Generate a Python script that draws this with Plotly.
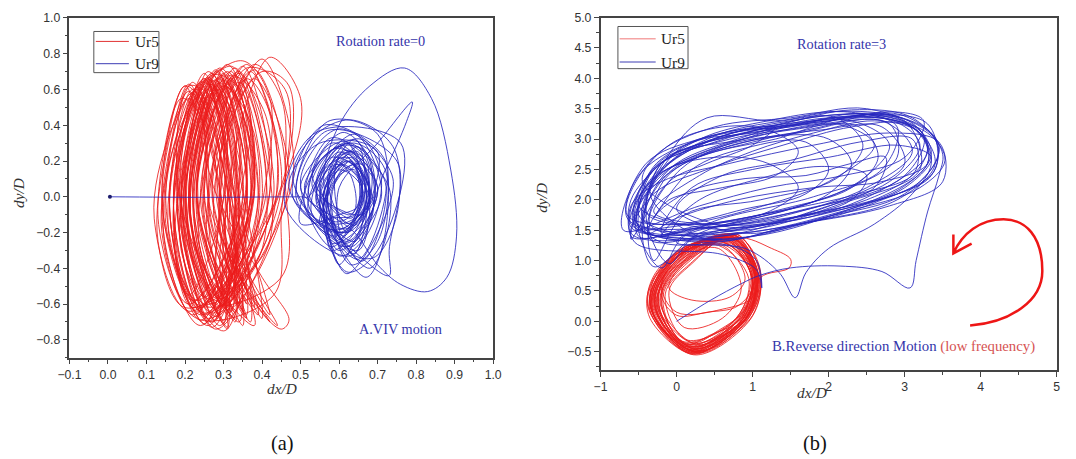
import plotly.graph_objects as go

W, H = 1076, 459

# ---------------- (a) rotation rate = 0 : trajectory points (dx/D, dy/D) ----------------
ur5_a = [
    (0.26, -0.62), (0.19, -0.02), (0.27, 0.63), (0.34, 0.02),
    (0.29, -0.66), (0.21, 0.03), (0.30, 0.68), (0.37, -0.04),
    (0.23, -0.58), (0.16, -0.08), (0.22, 0.60), (0.31, 0.06),
    (0.33, -0.70), (0.23, -0.02), (0.33, 0.72), (0.41, 0.01),
    (0.27, -0.55), (0.20, 0.05), (0.26, 0.66), (0.33, 0.00),
    (0.25, -0.71), (0.17, -0.12), (0.24, 0.57), (0.32, 0.08),
    (0.36, -0.66), (0.25, 0.00), (0.36, 0.74), (0.45, 0.05),
    (0.30, -0.60), (0.22, 0.02), (0.29, 0.64), (0.36, -0.02),
    (0.22, -0.66), (0.14, -0.10), (0.21, 0.55), (0.29, 0.04),
    (0.31, -0.73), (0.21, -0.04), (0.31, 0.70), (0.39, -0.01),
    (0.28, -0.63), (0.20, 0.00), (0.28, 0.62), (0.35, 0.03),
    (0.40, -0.68), (0.28, 0.05), (0.40, 0.77), (0.48, 0.10),
    (0.26, -0.68), (0.18, -0.04), (0.25, 0.65), (0.33, -0.03),
    (0.32, -0.58), (0.23, 0.04), (0.32, 0.66), (0.38, 0.02),
    (0.24, -0.62), (0.17, -0.06), (0.23, 0.61), (0.31, 0.05),
    (0.35, -0.72), (0.24, 0.00), (0.34, 0.69), (0.43, 0.00),
    (0.29, -0.57), (0.21, 0.02), (0.29, 0.71), (0.36, 0.04),
    (0.21, -0.60), (0.13, -0.12), (0.20, 0.62), (0.28, 0.02),
    (0.40, -0.45), (0.47, -0.69), (0.45, -0.74), (0.36, -0.52), (0.31, -0.05), (0.42, 0.78), (0.50, 0.55), (0.46, 0.10),
    (0.27, -0.65), (0.19, 0.01), (0.26, 0.67), (0.34, -0.01),
    (0.30, -0.69), (0.22, -0.03), (0.31, 0.63), (0.38, 0.03),
    (0.25, -0.56), (0.18, 0.04), (0.25, 0.69), (0.32, 0.00),
    (0.38, -0.62), (0.27, 0.02), (0.38, 0.71), (0.46, 0.06),
    (0.28, -0.74), (0.19, -0.06), (0.27, 0.58), (0.35, 0.02),
    (0.23, -0.64), (0.15, -0.02), (0.22, 0.64), (0.30, 0.04),
    (0.33, -0.65), (0.23, 0.03), (0.33, 0.68), (0.40, -0.02),
    (0.29, -0.61), (0.21, -0.01), (0.28, 0.70), (0.36, 0.05),
    (0.26, -0.70), (0.18, -0.08), (0.26, 0.60), (0.33, 0.01),
    (0.42, -0.66), (0.29, 0.00), (0.38, 0.66), (0.47, 0.08),
    (0.31, -0.63), (0.22, 0.01), (0.30, 0.66), (0.37, 0.00),
    (0.24, -0.69), (0.16, -0.04), (0.24, 0.63), (0.31, 0.03),
    (0.34, -0.60), (0.25, 0.04), (0.35, 0.73), (0.42, 0.02),
    (0.28, -0.67), (0.20, -0.02), (0.28, 0.65), (0.35, -0.02),
    (0.22, -0.58), (0.14, 0.00), (0.21, 0.59), (0.29, 0.06),
    (0.30, -0.71), (0.21, -0.05), (0.30, 0.69), (0.38, 0.02),
    (0.27, -0.60), (0.19, 0.03), (0.27, 0.62), (0.34, 0.00),
    (0.37, -0.70), (0.26, -0.02), (0.37, 0.70), (0.44, 0.04),
    (0.25, -0.66), (0.17, -0.03), (0.25, 0.66), (0.32, 0.03),
    (0.32, -0.64), (0.23, 0.02), (0.31, 0.61), (0.39, 0.01),
    (0.29, -0.72), (0.20, -0.04), (0.29, 0.67), (0.36, 0.02),
    (0.27, -0.70), (0.20, -0.30), (0.19, 0.20), (0.24, 0.64), (0.31, 0.50), (0.33, -0.10),
    (0.30, -0.58), (0.22, -0.20), (0.23, 0.30), (0.29, 0.72), (0.37, 0.40), (0.36, -0.20),
    (0.24, -0.72), (0.15, -0.30), (0.16, 0.25), (0.21, 0.63), (0.27, 0.30), (0.30, -0.30),
    (0.35, -0.64), (0.26, -0.25), (0.25, 0.20), (0.33, 0.67), (0.41, 0.45), (0.40, -0.15),
    (0.22, -0.62), (0.17, -0.20), (0.20, 0.35), (0.27, 0.69), (0.32, 0.20), (0.29, -0.35),
    (0.31, -0.74), (0.23, -0.35), (0.22, 0.15), (0.30, 0.62), (0.38, 0.35), (0.37, -0.30),
    (0.26, -0.57), (0.19, -0.15), (0.21, 0.30), (0.26, 0.70), (0.33, 0.40), (0.32, -0.20),
    (0.44, -0.72), (0.33, -0.40), (0.27, 0.10), (0.36, 0.72), (0.46, 0.60), (0.45, -0.10), (0.43, -0.55),
    (0.23, -0.68), (0.14, -0.20), (0.17, 0.28), (0.23, 0.60), (0.29, 0.25), (0.28, -0.40),
    (0.29, -0.66), (0.21, -0.25), (0.24, 0.35), (0.31, 0.74), (0.38, 0.30), (0.35, -0.30),
    (0.34, -0.70), (0.24, -0.30), (0.26, 0.22), (0.34, 0.64), (0.40, 0.30), (0.39, -0.35),
    (0.25, -0.60), (0.18, -0.10), (0.20, 0.40), (0.26, 0.66), (0.31, 0.25), (0.30, -0.25),
    (0.28, -0.69), (0.19, -0.30), (0.21, 0.18), (0.28, 0.60), (0.34, 0.35), (0.34, -0.15),
    (0.39, -0.66), (0.28, -0.20), (0.30, 0.30), (0.40, 0.70), (0.47, 0.62), (0.44, 0.00),
    (0.21, -0.64), (0.12, -0.12), (0.16, 0.35), (0.22, 0.58), (0.26, 0.20), (0.26, -0.35),
    (0.32, -0.62), (0.24, -0.15), (0.25, 0.40), (0.32, 0.70), (0.37, 0.25), (0.36, -0.25),
    (0.27, -0.73), (0.20, -0.25), (0.21, 0.25), (0.27, 0.65), (0.33, 0.30), (0.32, -0.30),
    (0.30, -0.61), (0.23, -0.10), (0.26, 0.45), (0.32, 0.68), (0.36, 0.15), (0.34, -0.40),
    (0.24, -0.66), (0.16, -0.25), (0.18, 0.30), (0.25, 0.66), (0.30, 0.35), (0.29, -0.20),
    (0.36, -0.68), (0.27, -0.30), (0.28, 0.25), (0.36, 0.66), (0.43, 0.40), (0.41, -0.25),
    (0.25, -0.65), (0.15, -0.15), (0.20, 0.45), (0.32, 0.73), (0.37, 0.45), (0.33, -0.25),
    (0.38, -0.72), (0.25, -0.40), (0.18, 0.10), (0.21, 0.62), (0.27, 0.55), (0.30, 0.00),
    (0.21, -0.55), (0.16, 0.05), (0.24, 0.60), (0.35, 0.76), (0.42, 0.55), (0.40, -0.05), (0.34, -0.60),
    (0.30, -0.75), (0.19, -0.45), (0.14, 0.00), (0.19, 0.55), (0.24, 0.45), (0.27, -0.10),
    (0.42, -0.70), (0.31, -0.30), (0.30, 0.35), (0.38, 0.74), (0.45, 0.55), (0.46, 0.10), (0.45, -0.45),
    (0.23, -0.60), (0.17, 0.00), (0.22, 0.50), (0.29, 0.66), (0.31, 0.20), (0.28, -0.45),
    (0.33, -0.68), (0.22, -0.35), (0.20, 0.15), (0.27, 0.68), (0.35, 0.58), (0.37, 0.00),
    (0.26, -0.72), (0.18, -0.40), (0.19, 0.10), (0.26, 0.56), (0.30, 0.40), (0.31, -0.30),
    (0.36, -0.60), (0.27, -0.15), (0.27, 0.45), (0.34, 0.70), (0.40, 0.35), (0.41, -0.30),
    (0.20, -0.62), (0.13, -0.25), (0.15, 0.25), (0.20, 0.62), (0.25, 0.50), (0.25, -0.10),
    (0.31, -0.66), (0.23, -0.25), (0.24, 0.30), (0.30, 0.65), (0.35, 0.45), (0.35, -0.10),
    (0.28, -0.58), (0.21, -0.20), (0.22, 0.35), (0.28, 0.71), (0.34, 0.30), (0.31, -0.40),
]

ur9_a = [
    (0.005, 0.0), (0.25, -0.003), (0.50, 0.0),
    (0.52, 0.00), (0.60, 0.25), (0.70, 0.05), (0.62, -0.25),
    (0.54, 0.05), (0.62, 0.30), (0.68, 0.00), (0.60, -0.20),
    (0.48, 0.00), (0.56, 0.40), (0.72, 0.20), (0.65, -0.35),
    (0.55, -0.05), (0.63, 0.20), (0.66, -0.02), (0.58, -0.28),
    (0.50, 0.10), (0.60, 0.38), (0.74, 0.10), (0.62, -0.43),
    (0.56, 0.00), (0.64, 0.32), (0.69, 0.00), (0.61, -0.15),
    (0.53, -0.10), (0.58, 0.22), (0.67, 0.10), (0.65, -0.30),
    (0.47, 0.05), (0.55, 0.30), (0.70, 0.25), (0.60, -0.38),
    (0.57, 0.05), (0.65, 0.28), (0.66, -0.05), (0.59, -0.22),
    (0.51, -0.05), (0.58, 0.33), (0.73, 0.05), (0.68, -0.40),
    (0.55, 0.02), (0.61, 0.18), (0.68, -0.02), (0.62, -0.20),
    (0.49, -0.02), (0.57, 0.42), (0.70, 0.35), (0.72, -0.20), (0.67, -0.45),
    (0.54, 0.08), (0.64, 0.35), (0.71, 0.00), (0.60, -0.30),
    (0.56, -0.08), (0.60, 0.15), (0.66, 0.05), (0.64, -0.25),
    (0.52, 0.03), (0.59, 0.27), (0.69, 0.12), (0.63, -0.33),
    (0.46, -0.05), (0.54, 0.36), (0.76, 0.30), (0.70, -0.30), (0.62, -0.42),
    (0.55, 0.00), (0.63, 0.24), (0.67, -0.03), (0.60, -0.18),
    (0.56, 0.10), (0.60, 0.40), (0.68, 0.62), (0.77, 0.72), (0.84, 0.55),
    (0.89, 0.15), (0.905, -0.22), (0.88, -0.45), (0.83, -0.53), (0.76, -0.49),
    (0.70, -0.38), (0.64, -0.20),
    (0.50, 0.05), (0.61, 0.31), (0.72, 0.08), (0.66, -0.36),
    (0.57, -0.03), (0.62, 0.20), (0.68, 0.02), (0.61, -0.22),
    (0.60, 0.05), (0.70, 0.30), (0.79, 0.53), (0.775, 0.42), (0.72, 0.15), (0.66, -0.10),
    (0.53, 0.06), (0.60, 0.28), (0.69, -0.05), (0.63, -0.28),
    (0.55, 0.04), (0.62, 0.26), (0.70, 0.05), (0.62, -0.26),
    (0.52, -0.04), (0.58, 0.30), (0.67, 0.15), (0.64, -0.32),
    (0.56, 0.02), (0.63, 0.22), (0.68, 0.00), (0.61, -0.20),
    (0.49, 0.02), (0.57, 0.37), (0.75, 0.20), (0.73, -0.30), (0.73, -0.44), (0.68, -0.38),
    (0.54, -0.02), (0.61, 0.24), (0.66, 0.03), (0.60, -0.24),
    (0.58, 0.03), (0.64, 0.18), (0.67, -0.04), (0.62, -0.15),
    (0.57, 0.10), (0.62, 0.30), (0.66, 0.10), (0.64, -0.10), (0.58, -0.12),
    (0.55, -0.15), (0.58, 0.05), (0.63, 0.20), (0.66, 0.00), (0.62, -0.20),
    (0.59, 0.00), (0.60, 0.22), (0.65, 0.25), (0.67, 0.05), (0.63, -0.12),
    (0.53, 0.12), (0.61, 0.36), (0.68, 0.20), (0.66, -0.15), (0.58, -0.26),
    (0.56, -0.05), (0.60, 0.12), (0.64, 0.15), (0.65, -0.05), (0.60, -0.10),
    (0.50, -0.15), (0.55, 0.20), (0.64, 0.30), (0.72, 0.15), (0.70, -0.25), (0.63, -0.38),
    (0.57, 0.05), (0.62, 0.25), (0.67, 0.20), (0.66, -0.10), (0.61, -0.18),
    (0.54, 0.00), (0.59, 0.18), (0.65, 0.10), (0.63, -0.15), (0.57, -0.18),
    (0.48, 0.10), (0.53, 0.33), (0.63, 0.43), (0.74, 0.28), (0.75, -0.10), (0.69, -0.34), (0.62, -0.30),
    (0.58, -0.02), (0.61, 0.15), (0.66, 0.18), (0.68, 0.00), (0.64, -0.16),
    (0.55, 0.05), (0.60, 0.28), (0.67, 0.25), (0.69, -0.05), (0.62, -0.28),
    (0.52, -0.08), (0.56, 0.15), (0.62, 0.22), (0.67, 0.05), (0.64, -0.20), (0.58, -0.30),
    (0.57, 0.00), (0.59, 0.20), (0.63, 0.12), (0.64, -0.08), (0.59, -0.14),
    (0.51, 0.05), (0.58, 0.26), (0.66, 0.32), (0.71, 0.10), (0.67, -0.22), (0.60, -0.33),
    (0.56, 0.02), (0.62, 0.20), (0.66, 0.08), (0.63, -0.10), (0.59, -0.06),
]

# ---------------- (b) rotation rate = 3 ----------------
ur5_b = [
    (0.70, 1.40), (1.05, 0.80), (0.90, 0.05), (0.20, -0.45), (-0.30, 0.30), (0.05, 1.10),
    (0.65, 1.35), (1.00, 0.75), (0.85, 0.00), (0.15, -0.40), (-0.25, 0.35), (0.10, 1.05),
    (0.75, 1.43), (1.08, 0.70), (0.95, 0.10), (0.25, -0.50), (-0.35, 0.25), (0.00, 1.15),
    (0.60, 1.30), (0.98, 0.85), (0.80, -0.05), (0.10, -0.35), (-0.20, 0.40), (0.15, 1.00),
    (0.72, 1.38), (1.06, 0.65), (0.92, 0.00), (0.30, -0.48), (-0.28, 0.20), (0.02, 1.08),
    (0.68, 1.42), (1.02, 0.90), (0.88, 0.15), (0.18, -0.52), (-0.33, 0.35), (0.06, 1.12),
    (0.55, 1.25), (0.95, 0.70), (0.75, 0.00), (0.12, -0.30), (-0.15, 0.45), (0.18, 0.95),
    (0.78, 1.44), (1.10, 0.75), (0.98, 0.05), (0.22, -0.55), (-0.38, 0.30), (-0.02, 1.12),
    (0.66, 1.36), (1.03, 0.78), (0.86, 0.08), (0.16, -0.43), (-0.27, 0.28), (0.08, 1.06),
    (0.62, 1.32), (1.00, 0.68), (0.83, -0.02), (0.26, -0.38), (-0.22, 0.33), (0.12, 1.02),
    (0.80, 1.38), (1.25, 1.20), (1.50, 1.02), (1.48, 0.88), (1.10, 0.72),
    (0.93, 0.12), (0.20, -0.47), (-0.32, 0.22), (0.03, 1.13),
    (0.70, 1.37), (1.04, 0.72), (0.89, 0.02), (0.14, -0.50), (-0.30, 0.38), (0.05, 1.09),
    (0.58, 1.28), (0.97, 0.80), (0.78, 0.05), (0.08, -0.33), (-0.18, 0.42), (0.16, 0.98),
    (0.76, 1.42), (1.09, 0.68), (0.96, 0.08), (0.28, -0.52), (-0.35, 0.27), (0.01, 1.14),
    (0.64, 1.34), (1.01, 0.86), (0.84, 0.10), (0.18, -0.42), (-0.26, 0.31), (0.09, 1.04),
    (0.55, 1.20), (0.85, 0.55), (0.60, 0.05), (0.10, -0.10), (-0.10, 0.50), (0.20, 0.95),
    (0.72, 1.41), (1.05, 0.76), (0.91, 0.04), (0.24, -0.49), (-0.31, 0.29), (0.04, 1.11),
    (0.67, 1.39), (1.03, 0.70), (0.87, -0.03), (0.21, -0.44), (-0.28, 0.36), (0.07, 1.07),
    (0.75, 1.35), (1.05, 0.90), (1.00, 0.40), (0.60, 0.20), (0.00, 0.15), (-0.20, 0.60), (0.10, 1.10),
    (0.80, 1.40), (1.10, 0.85), (0.99, 0.15), (0.20, -0.53), (-0.36, 0.24), (-0.01, 1.10),
    (0.61, 1.31), (0.99, 0.73), (0.81, 0.02), (0.13, -0.37), (-0.21, 0.39), (0.13, 1.01),
    (0.69, 1.38), (1.04, 0.79), (0.89, 0.07), (0.17, -0.46), (-0.29, 0.32), (0.06, 1.08),
    (0.73, 1.43), (1.06, 0.74), (0.92, 0.06), (0.26, -0.51), (-0.34, 0.26), (0.02, 1.12),
    (0.63, 1.33), (1.00, 0.82), (0.82, 0.09), (0.11, -0.41), (-0.24, 0.37), (0.11, 1.03),
    (0.66, 1.37), (1.02, 0.77), (0.87, 0.03), (0.19, -0.48), (-0.29, 0.34), (0.07, 1.09),
    (0.71, 1.41), (1.07, 0.78), (0.94, 0.10), (0.60, -0.20), (0.15, -0.48), (-0.32, 0.15), (-0.25, 0.70), (0.06, 1.12),
    (0.65, 1.36), (1.02, 0.84), (0.90, 0.20), (0.55, -0.15), (0.20, -0.35), (-0.25, 0.25), (-0.15, 0.75), (0.10, 1.06),
    (0.74, 1.42), (1.08, 0.72), (0.97, 0.15), (0.65, -0.25), (0.22, -0.52), (-0.37, 0.20), (-0.30, 0.75), (0.03, 1.13),
    (0.60, 1.25), (0.90, 0.70), (0.70, 0.40), (0.20, 0.35), (-0.10, 0.55), (0.05, 0.90), (0.40, 1.20),
    (0.68, 1.38), (1.04, 0.74), (0.92, 0.08), (0.50, -0.30), (0.12, -0.45), (-0.30, 0.10), (-0.28, 0.60), (0.05, 1.10),
    (0.72, 1.40), (1.06, 0.82), (0.95, 0.20), (0.70, -0.10), (0.30, -0.42), (-0.20, -0.10), (-0.35, 0.45), (0.00, 1.05),
    (0.62, 1.30), (0.98, 0.78), (0.85, 0.05), (0.45, -0.22), (0.10, -0.38), (-0.22, 0.20), (-0.18, 0.70), (0.14, 1.02),
    (0.77, 1.44), (1.10, 0.80), (1.00, 0.10), (0.62, -0.30), (0.20, -0.54), (-0.35, 0.05), (-0.36, 0.55), (-0.02, 1.10),
    (0.66, 1.34), (1.00, 0.60), (0.80, 0.25), (0.40, 0.15), (0.00, 0.10), (-0.20, 0.45), (0.05, 0.95),
    (0.70, 1.39), (1.05, 0.76), (0.93, 0.06), (0.55, -0.28), (0.18, -0.50), (-0.31, 0.12), (-0.31, 0.66), (0.04, 1.10),
    (0.70, 1.40),
]

ur9_b = [
    (0.00, 0.00), (0.45, 0.35), (0.85, 0.62), (1.10, 0.76), (1.50, 0.88), (2.15, 0.91),
    (2.70, 0.82), (3.07, 0.55), (3.15, 1.00), (3.30, 1.80), (3.45, 2.40), (3.50, 2.75),
    (3.30, 3.15), (2.80, 3.40), (2.00, 3.45), (1.20, 3.30), (0.40, 3.05), (-0.20, 2.60),
    (-0.60, 2.00), (-0.60, 1.55), (-0.20, 1.40), (0.60, 1.35),
    (-0.55, 1.55), (-0.35, 2.45), (0.60, 3.05), (1.80, 3.30), (2.90, 3.35), (3.30, 2.80), (2.60, 2.10), (1.20, 1.60),
    (-0.30, 1.80), (0.30, 2.40), (1.00, 2.80), (1.80, 3.10), (2.60, 3.30), (3.20, 3.10), (3.30, 2.60), (2.70, 2.30), (1.80, 2.20), (0.80, 2.00), (0.00, 1.70),
    (-0.40, 1.45), (-0.20, 2.60), (0.90, 3.10), (2.10, 3.40), (3.00, 3.30), (3.20, 2.50), (2.20, 1.95), (0.80, 1.50),
    (-0.50, 1.90), (-0.20, 2.45), (0.50, 2.70), (1.20, 2.60), (1.60, 2.20), (1.20, 1.80), (0.30, 1.60),
    (-0.65, 1.75), (-0.30, 2.70), (0.50, 3.20), (1.50, 3.35), (2.50, 3.50), (3.40, 3.00), (3.35, 2.40), (2.40, 1.90), (1.00, 1.40),
    (-0.40, 1.50), (-0.30, 2.30), (0.40, 2.80), (1.30, 3.05), (2.00, 3.00), (2.30, 2.60), (2.00, 2.10), (1.20, 1.75), (0.20, 1.50),
    (-0.60, 1.40), (-0.30, 2.10), (0.40, 2.50), (1.40, 2.90), (2.30, 3.20), (3.00, 3.25), (3.30, 2.90), (3.10, 2.40), (2.40, 2.10), (1.30, 1.80), (0.20, 1.55),
    (-0.50, 1.40), (-0.40, 2.20), (0.30, 2.90), (1.20, 3.15), (2.30, 3.30), (2.80, 2.90), (2.40, 2.30), (1.50, 1.85), (0.30, 1.45),
    (-0.30, 0.90), (-0.45, 1.60), (-0.10, 2.50), (0.80, 3.00), (2.00, 3.35), (3.10, 3.20), (3.40, 2.60), (2.90, 2.00), (1.60, 1.60), (0.40, 1.30),
    (-0.55, 1.60), (-0.20, 2.40), (0.60, 2.90), (1.50, 3.15), (2.40, 3.20), (2.65, 2.70), (2.30, 2.20), (1.40, 1.85), (0.30, 1.55),
    (-0.20, 1.45), (0.20, 2.20), (1.00, 2.50), (2.00, 2.70), (2.90, 2.90), (3.35, 2.70), (3.00, 2.20), (2.00, 1.75), (0.80, 1.45),
    (-0.60, 1.60), (-0.25, 2.55), (0.70, 3.00), (1.70, 3.20), (2.60, 3.40), (3.25, 3.05), (3.00, 2.40), (2.00, 1.90), (0.70, 1.55),
    (-0.45, 2.30), (-0.10, 2.90), (0.60, 3.20), (1.20, 3.15), (1.60, 2.80), (1.30, 2.40), (0.60, 2.20), (-0.10, 2.00),
    (-0.30, 1.70), (0.20, 2.50), (0.90, 2.85), (1.70, 2.95), (2.00, 2.50), (1.70, 2.10), (0.90, 1.85), (0.00, 1.60),
    (-0.45, 1.70), (-0.10, 2.75), (0.40, 3.35), (1.30, 3.30), (2.20, 3.45), (2.90, 3.20), (2.70, 2.50), (1.80, 2.05), (0.50, 1.65),
    (0.00, 1.30), (0.90, 1.20), (1.35, 0.80), (1.56, 0.39), (1.70, 0.80), (2.00, 1.20), (2.60, 1.60), (3.10, 2.10),
    (3.35, 2.60), (3.20, 3.10), (2.50, 3.40), (1.50, 3.30), (0.50, 3.00), (-0.30, 2.40), (-0.55, 1.70), (-0.20, 1.30),
    (0.70, 1.25), (1.05, 1.00), (1.12, 0.55), (1.05, 0.85), (0.60, 1.10),
    (-0.55, 1.30), (-0.60, 1.90), (-0.20, 2.30), (0.70, 2.60), (1.80, 2.90), (2.80, 3.10), (3.45, 2.95), (3.50, 2.30), (2.80, 1.90), (1.60, 1.60), (0.40, 1.35),
    (-0.35, 2.10), (0.00, 2.70), (0.60, 3.05), (1.30, 3.20), (1.00, 2.90), (0.40, 2.60), (-0.10, 2.30),
    (-0.60, 1.35), (-0.45, 2.00), (0.10, 2.60), (1.00, 2.95), (1.90, 3.20), (2.80, 3.45), (3.25, 3.30), (3.00, 2.70), (2.20, 2.40), (1.20, 2.20), (0.30, 1.90),
    (-0.70, 1.50), (-0.50, 2.40), (0.20, 2.95), (1.00, 3.10), (2.40, 3.38), (3.30, 3.10), (3.53, 2.65), (3.20, 2.20), (2.20, 1.80), (0.90, 1.45),
    (0.00, 1.85), (0.60, 2.40), (1.50, 2.65), (2.40, 2.95), (3.10, 3.00), (3.15, 2.50), (2.50, 2.00), (1.20, 1.65), (0.10, 1.50),
    (-0.20, 1.40), (0.30, 2.00), (1.10, 2.35), (1.90, 2.55), (2.50, 2.40), (2.30, 2.00), (1.50, 1.70), (0.50, 1.45),
    (-0.35, 1.35), (-0.15, 2.35), (0.60, 2.85), (1.60, 3.10), (2.70, 3.30), (3.10, 2.80), (2.50, 2.20), (1.30, 1.70), (0.10, 1.40),
    (-0.20, 0.88), (-0.50, 1.50), (-0.30, 2.50), (0.50, 2.95), (1.40, 3.25), (2.30, 3.48), (3.10, 3.35), (3.45, 2.80), (3.00, 2.10), (1.90, 1.70), (0.60, 1.35),
    (-0.50, 1.75), (-0.15, 2.55), (0.50, 3.05), (1.40, 3.30), (2.10, 3.35), (2.45, 2.90), (2.10, 2.35), (1.10, 2.00), (0.10, 1.75),
    (-0.30, 1.00), (-0.35, 1.60), (0.10, 2.10), (0.90, 2.35), (1.70, 2.40), (2.30, 2.60), (2.75, 2.70), (2.60, 2.20), (1.70, 1.85), (0.50, 1.55),
    (-0.55, 1.65), (-0.20, 2.65), (0.90, 3.00), (1.90, 3.25), (2.80, 3.25), (2.90, 2.70), (2.20, 2.15), (1.10, 1.75), (0.00, 1.60),
    (-0.40, 1.80), (0.00, 2.80), (0.80, 3.15), (1.80, 3.25), (2.50, 3.40), (3.30, 3.25), (3.40, 2.50), (2.60, 1.95), (1.40, 1.55),
    (-0.60, 1.45), (-0.35, 2.30), (0.40, 2.75), (1.30, 3.00), (2.10, 3.25), (2.60, 2.90), (2.00, 2.30), (1.00, 1.85), (-0.10, 1.55),
    (-0.50, 1.55), (-0.30, 2.55), (0.60, 3.10), (1.50, 3.20), (2.40, 3.42), (3.20, 3.15), (3.30, 2.60), (2.60, 2.00), (1.30, 1.65), (0.20, 1.35),
    (-0.10, 0.95), (-0.40, 1.70), (-0.20, 2.60), (0.70, 3.05), (2.00, 3.30), (2.95, 3.40), (3.45, 2.90), (3.20, 2.30), (2.20, 1.85), (0.90, 1.55),
    (-0.45, 1.50), (-0.10, 2.45), (0.90, 2.95), (1.90, 3.15), (2.70, 3.20), (3.00, 2.60), (2.30, 2.05), (1.20, 1.60), (0.20, 1.45),
    (-0.65, 1.70), (-0.40, 2.60), (0.30, 3.00), (1.30, 3.20), (2.20, 3.35), (3.05, 3.30), (3.35, 2.75), (2.90, 2.15), (1.70, 1.75), (0.50, 1.40),
    (-0.35, 1.60), (0.05, 2.50), (1.00, 3.05), (2.00, 3.30), (2.85, 3.30), (3.20, 2.90), (2.80, 2.30), (1.90, 1.90), (0.70, 1.60),
]

RED = "rgb(236,28,28)"
BLUE = "rgb(38,38,190)"
TEXT_BLUE = "rgb(52,52,170)"

# page placement: the rendered page sits slightly inset, so positions
# given in target pixels are mapped through this small affine correction
SX, OX = 0.979, 13.3
SY, OY = 0.990, 4.7
FS = 1.02


def xy(points):
    return [p[0] for p in points], [p[1] for p in points]


def px(x):
    return ((x - OX) / SX) / W


def py(y):
    return 1 - ((y - OY) / SY) / H


fig = go.Figure()

series = [
    (ur5_a, RED, "x", "y"),
    (ur9_a, BLUE, "x", "y"),
    (ur5_b, RED, "x2", "y2"),
    (ur9_b, BLUE, "x2", "y2"),
]
for pts, col, xa, ya in series:
    xs, ys = xy(pts)
    fig.add_trace(go.Scatter(
        x=xs, y=ys, mode="lines", xaxis=xa, yaxis=ya, showlegend=False,
        line=dict(color=col, width=0.85, shape="spline", smoothing=1.0),
        hoverinfo="skip",
    ))

# starting point of the Ur9 trajectory in (a)
fig.add_trace(go.Scatter(
    x=[ur9_a[0][0]], y=[ur9_a[0][1]], mode="markers", xaxis="x", yaxis="y",
    marker=dict(color="rgb(30,30,110)", size=4), showlegend=False, hoverinfo="skip",
))

tickfont = dict(family="Liberation Sans, Arial", size=12 * FS, color="#333")
common = dict(
    showline=True, linecolor="#444", linewidth=1.5, mirror=True,
    ticks="outside", ticklen=5, tickwidth=1.2, tickcolor="#444",
    showgrid=False, zeroline=False, tickfont=tickfont,
)

fig.update_layout(
    width=W, height=H, margin=dict(l=0, r=0, t=0, b=0),
    plot_bgcolor="white", paper_bgcolor="white",
    xaxis=dict(domain=[px(70.7), px(493.7)], range=[-0.1, 1.0], dtick=0.1, tick0=0,
               tickformat=".1f", anchor="y",
               minor=dict(ticks="outside", ticklen=3, dtick=0.05, tickcolor="#444"), **common),
    yaxis=dict(domain=[py(357.3), py(15.7)], range=[-0.9, 1.0], dtick=0.2, tick0=0,
               tickformat=".1f", anchor="x",
               minor=dict(ticks="outside", ticklen=3, dtick=0.1, tickcolor="#444"), **common),
    xaxis2=dict(domain=[px(601), px(1056.5)], range=[-1, 5], dtick=1, tick0=0,
                anchor="y2",
                minor=dict(ticks="outside", ticklen=3, dtick=0.5, tickcolor="#444"), **common),
    yaxis2=dict(domain=[py(369.6), py(15.3)], range=[-0.8, 5.0], dtick=0.5, tick0=0,
                tickformat=".1f", anchor="x2",
                minor=dict(ticks="outside", ticklen=3, dtick=0.25, tickcolor="#444"), **common),
)

serif = "Liberation Serif, Times New Roman"
ann = []


def text(x, y, s, size=14, color=TEXT_BLUE, italic=False, angle=0):
    ann.append(dict(
        x=px(x), y=py(y), xref="paper", yref="paper", text=s, showarrow=False,
        xanchor="center", yanchor="middle", textangle=angle,
        font=dict(family=serif, size=size * FS, color=color,
                  style="italic" if italic else "normal"),
    ))


text(381.7, 39.3, "Rotation rate=0")
text(401.7, 328, "A.VIV motion")
text(841.7, 42.3, "Rotation rate=3")
text(903.3, 345.7,
     "B.Reverse direction Motion <span style='color:rgb(214,82,82)'>(low frequency)</span>",
     size=14.5)
# axis titles
text(283, 388, "dx/D", size=15, color="#333", italic=True)
text(812, 392, "dx/D", size=15, color="#333", italic=True)
text(20, 192, "dy/D", size=15, color="#333", italic=True, angle=-90)
text(542, 197, "dy/D", size=15, color="#333", italic=True, angle=-90)
# panel labels
text(283, 444, "(a)", size=20, color="#111")
text(815, 444, "(b)", size=20, color="#111")

# legend boxes
shapes = []
legends = [
    ((95, 29.3, 160, 70.7), (97, 130), [(39.3, "rgb(225,50,50)", "Ur5"), (61.7, "rgb(60,60,180)", "Ur9")], 134),
    ((618.3, 24.3, 688.3, 66.7), (620, 656), [(36.7, "rgb(240,120,120)", "Ur5"), (60, "rgb(60,60,180)", "Ur9")], 659),
]
for (bx0, by0, bx1, by1), (sx0, sx1), rows, tx in legends:
    shapes.append(dict(type="rect", xref="paper", yref="paper",
                       x0=px(bx0), x1=px(bx1), y0=py(by1), y1=py(by0),
                       line=dict(color="#555", width=1), fillcolor="rgba(0,0,0,0)"))
    for ry, rc, lab in rows:
        shapes.append(dict(type="line", xref="paper", yref="paper",
                           x0=px(sx0), x1=px(sx1), y0=py(ry), y1=py(ry),
                           line=dict(color=rc, width=1)))
        ann.append(dict(x=px(tx), y=py(ry), xref="paper", yref="paper", text=lab,
                        showarrow=False, xanchor="left", yanchor="middle",
                        font=dict(family=serif, size=15 * FS, color="#222")))

# curved red arrow indicating the orbit direction in (b)
shapes.append(dict(
    type="path", xref="x2", yref="y2",
    path=("M 3.86 -0.07 C 4.39 -0.02, 4.81 0.34, 4.81 0.83 "
          "C 4.81 1.40, 4.59 1.68, 4.30 1.68 "
          "C 3.99 1.68, 3.76 1.45, 3.64 1.12 "
          "M 3.64 1.43 L 3.64 1.12 L 3.88 1.28"),
    line=dict(color="rgb(238,22,22)", width=2.5),
))

fig.update_layout(annotations=ann, shapes=shapes)
fig.write_html("out.html")
